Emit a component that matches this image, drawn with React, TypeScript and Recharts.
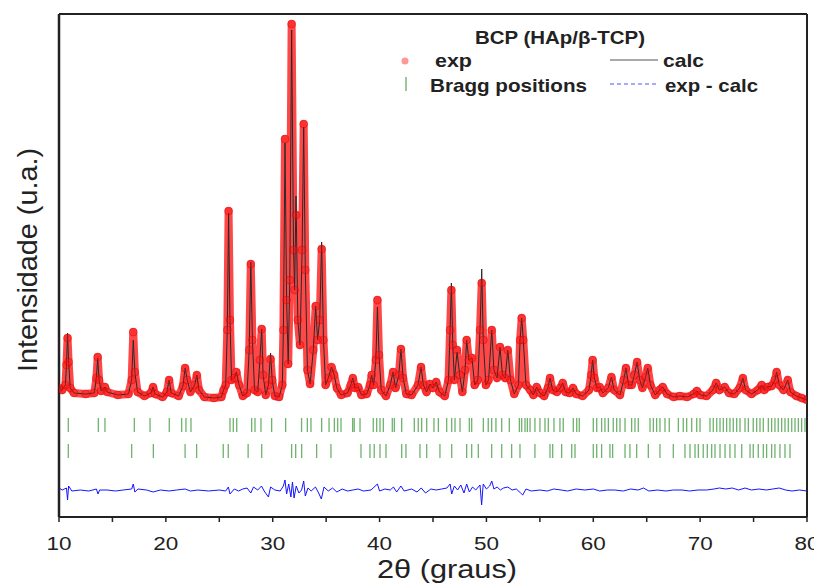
import React from 'react';
import { ComposedChart, Line, Scatter, XAxis, YAxis } from 'recharts';

const FONT = '"Liberation Sans", Arial, Helvetica, sans-serif';

// x-axis ticks (2θ, degrees)
const majorTicks = [10, 20, 30, 40, 50, 60, 70, 80];
const minorTicks = [15, 25, 35, 45, 55, 65, 75];

// Profile: [2θ, exp, calc] (calc omitted when equal to exp), intensity in a.u.
const profileLow: number[][] = [
  [10.0, 129], [10.3, 127], [10.6, 132], [10.7, 152], [10.8, 179, 184], [10.9, 155], [11.05, 129],
  [11.4, 124], [12.5, 123], [13.3, 124], [13.5, 139], [13.62, 160, 159], [13.75, 137], [13.95, 126],
  [14.3, 130], [14.5, 125], [15.5, 122], [16.5, 123], [16.8, 137], [16.95, 185, 177], [17.1, 145],
  [17.35, 125], [18.0, 121], [18.6, 124], [18.8, 130], [19.0, 123], [19.7, 120], [20.1, 125],
  [20.3, 137], [20.5, 124], [21.2, 121], [21.6, 131], [21.8, 149], [22.0, 137], [22.3, 125],
  [22.7, 132], [22.9, 142], [23.1, 127], [23.6, 120], [24.5, 119], [25.2, 120],
];

const profileMain: number[][] = [
  [25.4, 127], [25.6, 132], [25.75, 187], [25.87, 306, 304], [26.0, 197], [26.15, 137], [26.4, 139],
  [26.6, 145], [26.85, 132], [27.2, 121], [27.6, 124], [27.8, 167], [27.95, 253, 255], [28.1, 177],
  [28.3, 127], [28.6, 125], [28.8, 157], [28.97, 188], [29.1, 142], [29.35, 122], [29.6, 132],
  [29.8, 158, 164], [29.95, 137], [30.2, 121], [30.6, 120], [30.9, 132], [31.0, 187], [31.15, 378, 374],
  [31.3, 217], [31.45, 153], [31.6, 237], [31.77, 493, 487], [31.95, 267], [32.05, 227], [32.18, 302, 321],
  [32.35, 197], [32.55, 172], [32.75, 267], [32.9, 393, 390], [33.05, 247], [33.25, 147], [33.5, 133],
  [33.8, 167], [34.02, 211], [34.2, 177], [34.4, 197], [34.58, 268, 275], [34.75, 177], [34.95, 132],
  [35.2, 139], [35.5, 150], [35.75, 142], [36.0, 129],
];

const profileMid: number[][] = [
  [36.4, 122], [37.0, 124], [37.3, 132], [37.5, 139], [37.7, 129], [38.0, 130], [38.3, 122], [38.8, 123],
  [39.1, 132], [39.26, 142], [39.45, 132], [39.65, 157], [39.8, 217, 210], [39.95, 162], [40.15, 127],
  [40.6, 121], [41.0, 132], [41.26, 145], [41.5, 129], [41.8, 142], [42.0, 168], [42.2, 139], [42.5, 123],
  [43.0, 122], [43.6, 132], [43.88, 150], [44.1, 132], [44.4, 125], [44.7, 133], [45.0, 129], [45.3, 135],
  [45.6, 125], [46.1, 121], [46.45, 137], [46.6, 187], [46.72, 227, 234], [46.85, 172], [47.0, 137],
  [47.25, 167, 165], [47.5, 142], [47.75, 125], [48.0, 147], [48.15, 177], [48.35, 157], [48.65, 159],
  [48.9, 132], [49.2, 137], [49.4, 187], [49.56, 234, 248], [49.7, 177], [49.95, 132], [50.2, 137],
  [50.5, 187], [50.7, 147], [51.0, 139], [51.27, 170], [51.5, 142], [51.75, 139], [52.0, 167], [52.25, 137],
  [52.6, 123], [53.0, 132], [53.15, 177], [53.3, 199], [53.45, 177], [53.7, 132], [54.1, 127], [54.4, 122],
  [54.7, 130], [55.0, 124], [55.4, 121], [55.75, 129], [55.95, 139], [56.2, 127],
];

const profileHigh: number[][] = [
  [56.6, 125], [56.9, 129], [57.14, 134], [57.4, 125], [57.8, 124], [58.1, 129], [58.4, 123], [59.0, 121],
  [59.6, 127], [59.8, 142], [59.94, 157], [60.1, 139], [60.35, 129], [60.6, 130], [60.9, 124], [61.4, 129],
  [61.7, 140], [61.95, 127], [62.5, 122], [62.85, 137], [63.06, 149], [63.3, 132], [63.6, 132], [63.85, 142],
  [64.1, 155], [64.35, 137], [64.6, 129], [64.9, 140], [65.1, 149], [65.35, 132], [65.8, 122], [66.2, 127],
  [66.5, 130], [66.9, 123], [67.5, 120], [68.1, 121], [68.8, 120], [69.4, 123], [69.7, 126], [70.0, 122],
  [70.6, 121], [71.2, 127], [71.5, 134], [71.8, 127], [72.3, 130], [72.7, 124], [73.2, 123], [73.7, 129],
  [74.0, 139], [74.25, 127], [74.8, 123], [75.4, 127], [75.76, 132], [76.0, 127], [76.3, 130], [76.7, 131],
  [77.0, 137], [77.16, 145], [77.4, 132], [77.8, 127], [78.2, 137], [78.45, 125], [79.0, 121], [79.5, 119],
  [80.0, 117],
];

// exp - calc difference: [2θ, value]
const diffCurve: number[][] = [
  [10.0, 29], [10.3, 27], [10.7, 29], [10.8, 17], [10.9, 31], [11.2, 26], [12.0, 27], [12.8, 26], [13.5, 28],
  [13.65, 23], [13.8, 27], [14.5, 27], [15.3, 26], [16.0, 27], [16.8, 28], [16.95, 33], [17.1, 25], [17.4, 28],
  [18.2, 27], [18.8, 25], [19.5, 27], [20.3, 26], [21.0, 27], [21.8, 28], [22.3, 26], [23.0, 27], [24.0, 26],
  [25.0, 27], [25.6, 26], [25.85, 30], [26.0, 23], [26.4, 28], [26.8, 26], [27.2, 28], [27.6, 29], [27.95, 24],
  [28.2, 30], [28.6, 27], [28.95, 31], [29.2, 26], [29.6, 20], [29.8, 30], [30.2, 27], [30.7, 26], [31.0, 31],
  [31.15, 37], [31.3, 23], [31.5, 33], [31.7, 20], [31.85, 35], [32.0, 19], [32.2, 31], [32.45, 24], [32.7, 27],
  [32.9, 36], [33.05, 21], [33.3, 29], [33.6, 26], [34.0, 30], [34.3, 24], [34.55, 18], [34.8, 30], [35.2, 26],
  [35.6, 29], [36.0, 25], [36.5, 28], [37.0, 26], [37.5, 27], [38.0, 28], [38.5, 26], [39.2, 27], [39.8, 33],
  [40.0, 26], [40.5, 28], [41.0, 27], [41.3, 30], [41.6, 25], [42.0, 31], [42.3, 26], [43.0, 28], [43.5, 25],
  [43.9, 29], [44.3, 24], [44.8, 28], [45.3, 27], [45.8, 28], [46.3, 29], [46.6, 33], [46.75, 23], [47.0, 31],
  [47.3, 27], [47.6, 32], [47.9, 24], [48.15, 33], [48.4, 25], [48.7, 30], [49.0, 27], [49.4, 32], [49.55, 12],
  [49.7, 33], [50.0, 28], [50.3, 31], [50.5, 36], [50.7, 28], [51.0, 30], [51.3, 27], [51.6, 29], [52.0, 30],
  [52.4, 27], [52.8, 28], [53.2, 24], [53.4, 22], [53.7, 28], [54.2, 26], [55.0, 27], [55.7, 26], [56.3, 28],
  [57.0, 27], [57.6, 26], [58.4, 28], [59.2, 27], [60.0, 28], [60.6, 26], [61.3, 27], [62.0, 27], [62.8, 26],
  [63.5, 28], [64.2, 27], [64.7, 29], [65.2, 26], [66.0, 27], [66.8, 26], [67.5, 27], [68.3, 27], [69.0, 26],
  [69.8, 27], [70.6, 27], [71.3, 28], [71.8, 29], [72.4, 28], [73.0, 29], [73.6, 27], [74.2, 29], [74.8, 27],
  [75.5, 28], [76.2, 27], [76.8, 28], [77.4, 29], [78.0, 27], [78.6, 26], [79.3, 27], [80.0, 26],
];

// Bragg positions (2θ) for the two phases
const braggPhase1 = [
  10.87, 13.68, 14.3, 17.05, 18.52, 20.32, 21.48, 21.88, 22.35, 26.0, 26.31, 26.63, 28.03, 28.34, 28.9, 29.9,
  31.21, 32.7, 33.24, 33.58, 34.58, 35.27, 35.77, 36.08, 36.39, 37.48, 37.63, 38.17, 39.41, 39.73, 40.04, 40.35,
  41.19, 41.38, 42.07, 43.25, 43.62, 43.94, 44.41, 45.09, 45.5, 46.28, 46.75, 47.06, 47.53, 48.4, 48.62, 49.71,
  50.17, 50.49, 50.89, 51.43, 52.14, 53.08, 53.3, 53.61, 53.83, 54.08, 54.54, 55.01, 55.48, 55.79, 56.32, 56.88,
  57.19, 58.13, 58.45, 58.69, 60.0, 60.32, 60.78, 61.09, 61.41, 61.87, 62.19, 62.5, 62.97, 63.59, 63.9, 64.21,
  65.31, 65.62, 65.93, 66.24, 66.71, 67.11, 67.96, 68.42, 68.74, 69.21, 69.68, 69.99, 70.92, 71.23, 71.55, 71.86,
  72.17, 72.48, 72.79, 73.1, 73.42, 73.73, 74.2, 74.51, 74.97, 75.29, 75.6, 75.91, 76.38, 76.69, 77.0, 77.31,
  77.63, 77.94, 78.25, 78.57, 78.88, 79.19, 79.5, 79.81,
];
const braggPhase2 = [
  10.87, 16.8, 18.83, 21.8, 22.88, 25.37, 25.84, 27.7, 28.97, 31.77, 32.15, 32.71, 34.11, 35.45, 38.26, 39.1,
  39.5, 40.04, 40.6, 42.07, 42.47, 43.78, 44.41, 45.65, 46.75, 48.15, 48.62, 49.24, 50.49, 51.43, 52.36, 53.14,
  54.54, 55.95, 56.2, 57.04, 57.98, 58.29, 60.0, 60.32, 60.78, 61.56, 61.81, 62.97, 63.43, 64.06, 65.15, 66.24,
  67.49, 68.58, 69.05, 69.52, 69.83, 70.29, 70.67, 71.08, 71.39, 71.86, 72.33, 72.79, 73.26, 73.89, 74.67,
  74.97, 75.44, 75.91, 76.22, 76.69, 77.0, 77.47, 77.94, 78.41,
];
const braggLevel1 = 92;
const braggLevel2 = 66;

const allTicks = [...majorTicks, ...minorTicks].sort((a, b) => a - b);

const profile = [...profileLow, ...profileMain, ...profileMid, ...profileHigh].map((p) => ({
  x: p[0],
  exp: p[1],
  calc: p.length > 2 ? p[2] : p[1],
}));
const diffData = diffCurve.map((p) => ({ x: p[0], d: p[1] }));
const bragg1Data = braggPhase1.map((x) => ({ x, y: braggLevel1 }));
const bragg2Data = braggPhase2.map((x) => ({ x, y: braggLevel2 }));

const BraggMark = (props: any) => {
  const { cx, cy } = props;
  if (cx == null || cy == null) return <g />;
  return <line x1={cx} x2={cx} y1={cy - 7} y2={cy + 7} stroke="#1f8a1f" strokeWidth={1.3} strokeOpacity={0.65} />;
};

const XTick = (props: any) => {
  const { x, y, payload } = props;
  const v = payload && payload.value;
  if (!majorTicks.includes(v)) return <g />;
  return (
    <text
      x={x}
      y={y + 28}
      textAnchor="middle"
      fontSize={18}
      fontFamily={FONT}
      fill="#222"
      textLength={25}
      lengthAdjust="spacingAndGlyphs"
    >
      {v}
    </text>
  );
};

const axisLineStyle = { stroke: '#222', strokeWidth: 2 };

export default function App() {
  return (
    <div style={{ position: 'relative', width: 814, height: 575 }}>
      <style>{'html,body{overflow:hidden;}'}</style>
      <ComposedChart width={814} height={575} margin={{ top: 5, right: 14, bottom: 8, left: 50 }}>
        <XAxis
          xAxisId="b"
          dataKey="x"
          type="number"
          domain={[10, 80]}
          ticks={allTicks}
          interval={0}
          allowDataOverflow
          height={58}
          tickSize={5}
          tickMargin={0}
          axisLine={axisLineStyle}
          tickLine={{ stroke: '#222', strokeWidth: 1.5 }}
          tick={<XTick />}
        />
        <XAxis
          xAxisId="t"
          orientation="top"
          dataKey="x"
          type="number"
          domain={[10, 80]}
          allowDataOverflow
          height={1}
          tick={false}
          tickLine={false}
          axisLine={axisLineStyle}
        />
        <YAxis yAxisId="l" type="number" domain={[0, 503]} allowDataOverflow width={1} tick={false} tickLine={false} axisLine={{ stroke: '#222', strokeWidth: 2.5 }} />
        <YAxis
          yAxisId="r"
          orientation="right"
          type="number"
          domain={[0, 503]}
          allowDataOverflow
          width={1}
          tick={false}
          tickLine={false}
          axisLine={axisLineStyle}
        />
        <Line
          xAxisId="b"
          yAxisId="l"
          data={profile}
          dataKey="exp"
          stroke="#ff0000"
          strokeWidth={8}
          strokeOpacity={0.72}
          strokeLinejoin="round"
          dot={false}
          activeDot={false}
          isAnimationActive={false}
        />
        <Line
          xAxisId="b"
          yAxisId="l"
          data={profile}
          dataKey="exp"
          stroke="none"
          dot={{ r: 4, fill: '#ff1010', fillOpacity: 0.4, stroke: '#c00000', strokeOpacity: 0.35, strokeWidth: 1 }}
          activeDot={false}
          isAnimationActive={false}
        />
        <Line
          xAxisId="b"
          yAxisId="l"
          data={profile}
          dataKey="calc"
          stroke="#2a2a2a"
          strokeWidth={1}
          dot={false}
          activeDot={false}
          isAnimationActive={false}
        />
        <Scatter xAxisId="b" yAxisId="l" data={bragg1Data} dataKey="y" shape={BraggMark} isAnimationActive={false} />
        <Scatter xAxisId="b" yAxisId="l" data={bragg2Data} dataKey="y" shape={BraggMark} isAnimationActive={false} />
        <Line
          xAxisId="b"
          yAxisId="l"
          data={diffData}
          dataKey="d"
          stroke="#1414ff"
          strokeWidth={1}
          dot={false}
          activeDot={false}
          isAnimationActive={false}
        />
      </ComposedChart>
      <svg
        width={814}
        height={575}
        style={{ position: 'absolute', left: 0, top: 0, pointerEvents: 'none' }}
        fontFamily={FONT}
      >
        <text x={552} y={36} textAnchor="middle" fontSize={18.5} fontWeight="bold" fill="#222" textLength={170} lengthAdjust="spacingAndGlyphs">
          BCP (HAp/β-TCP)
        </text>
        <circle cx={397} cy={53} r={3.5} fill="#ff3030" fillOpacity={0.5} />
        <text x={427} y={59} fontSize={18.5} fontWeight="bold" fill="#222" textLength={37} lengthAdjust="spacingAndGlyphs">
          exp
        </text>
        <line x1={602} x2={650} y1={52} y2={52} stroke="#555" strokeWidth={1} />
        <text x={655} y={59} fontSize={18.5} fontWeight="bold" fill="#222" textLength={41} lengthAdjust="spacingAndGlyphs">
          calc
        </text>
        <line x1={398} x2={398} y1={69} y2={83} stroke="#1f8a1f" strokeWidth={1.3} strokeOpacity={0.7} />
        <text x={422} y={84} fontSize={18.5} fontWeight="bold" fill="#222" textLength={157} lengthAdjust="spacingAndGlyphs">
          Bragg positions
        </text>
        <line x1={602} x2={650} y1={76} y2={76} stroke="#5050ff" strokeWidth={1} strokeDasharray="4 3" />
        <text x={657} y={84} fontSize={18.5} fontWeight="bold" fill="#222" textLength={93} lengthAdjust="spacingAndGlyphs">
          exp - calc
        </text>
        <text x={439} y={570} textAnchor="middle" fontSize={25} fill="#222" textLength={140} lengthAdjust="spacingAndGlyphs">
          2θ (graus)
        </text>
        <text
          x={29}
          y={252}
          textAnchor="middle"
          fontSize={28}
          fill="#222"
          textLength={224}
          lengthAdjust="spacingAndGlyphs"
          transform="rotate(-90, 29, 252)"
        >
          Intensidade (u.a.)
        </text>
      </svg>
    </div>
  );
}
